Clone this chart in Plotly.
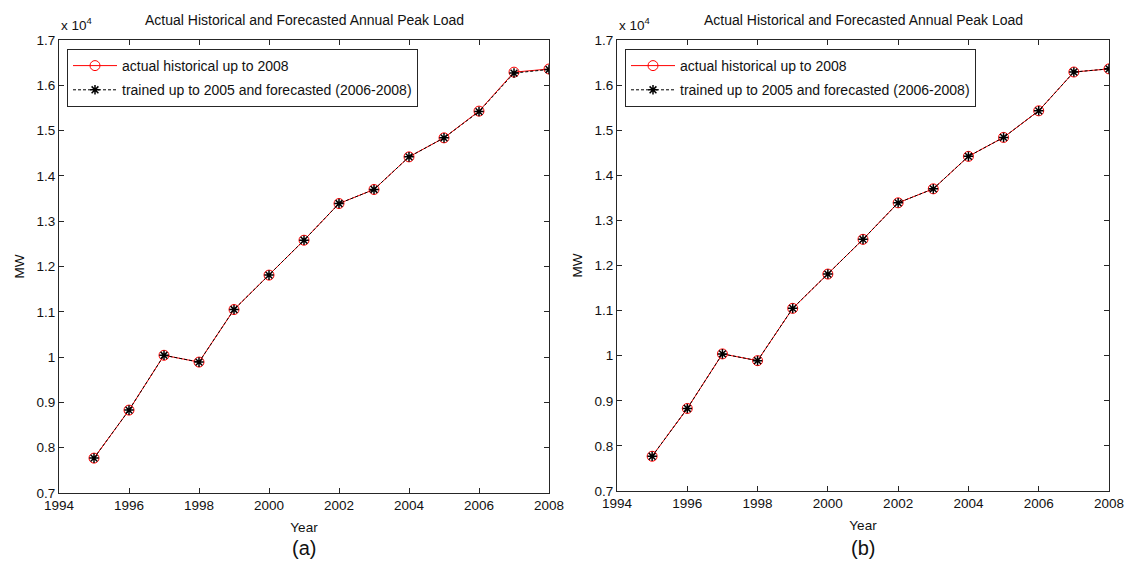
import plotly.graph_objects as go

years = [1995, 1996, 1997, 1998, 1999, 2000, 2001, 2002, 2003, 2004, 2005, 2006, 2007, 2008]
actual_mw = [7770, 8830, 10040, 9890, 11050, 11810, 12580, 13390, 13700, 14420, 14840, 15430, 16290, 16360]
forecast_a_mw = [7770, 8830, 10040, 9890, 11050, 11810, 12580, 13390, 13700, 14420, 14840, 15420, 16270, 16350]
forecast_b_mw = [7770, 8830, 10040, 9890, 11050, 11810, 12580, 13390, 13700, 14420, 14840, 15430, 16290, 16360]

ytick_vals = [7000, 8000, 9000, 10000, 11000, 12000, 13000, 14000, 15000, 16000, 17000]
ytick_text = ["0.7", "0.8", "0.9", "1", "1.1", "1.2", "1.3", "1.4", "1.5", "1.6", "1.7"]
xtick_vals = [1994, 1996, 1998, 2000, 2002, 2004, 2006, 2008]

title_text = "Actual Historical and Forecasted Annual Peak Load"
name_actual = "actual historical up to 2008"
name_forecast = "trained up to 2005 and forecasted (2006-2008)"

FONT = "Liberation Sans, Arial, sans-serif"
W, H = 1127, 563

fig = go.Figure()

panels = [
    dict(xa="x", ya="y", xaxis="xaxis", yaxis="yaxis", legend="legend",
         fc=forecast_a_mw, xd=[59 / W, 549 / W], yd=[1 - 493 / H, 1 - 40 / H], label="(a)"),
    dict(xa="x2", ya="y2", xaxis="xaxis2", yaxis="yaxis2", legend="legend2",
         fc=forecast_b_mw, xd=[617 / W, 1109 / W], yd=[1 - 491 / H, 1 - 40 / H], label="(b)"),
]

layout = dict(
    width=W, height=H,
    margin=dict(l=0, r=0, t=0, b=0, autoexpand=False),
    paper_bgcolor="white", plot_bgcolor="white",
    font=dict(family=FONT, size=13, color="#111111"),
    showlegend=True,
)

annotations = []
for i, p in enumerate(panels):
    fig.add_trace(go.Scatter(
        x=years, y=actual_mw, mode="lines+markers", name=name_actual,
        line=dict(color="red", width=1),
        marker=dict(symbol="circle-open", size=10, color="red", line=dict(width=1)),
        xaxis=p["xa"], yaxis=p["ya"], legend=p["legend"], legendgroup=f"a{i}"))
    fig.add_trace(go.Scatter(
        x=years, y=p["fc"], mode="lines+markers", name=name_forecast,
        line=dict(color="black", width=1, dash="3px,2px"),
        marker=dict(symbol="asterisk-open", size=8, color="black", line=dict(width=1.5, color="black")),
        xaxis=p["xa"], yaxis=p["ya"], legend=p["legend"], legendgroup=f"f{i}"))

    axcommon = dict(showline=True, linecolor="#262626", linewidth=1, mirror="ticks",
                    ticks="inside", ticklen=5, tickcolor="#262626", showgrid=False, zeroline=False,
                    automargin=False,
                    tickfont=dict(family=FONT, size=13.5, color="#111111"))
    layout[p["xaxis"]] = dict(axcommon, domain=p["xd"], range=[1994, 2008], tickvals=xtick_vals,
                              anchor=p["ya"],
                              title=dict(text="Year", font=dict(size=13.5), standoff=10))
    layout[p["yaxis"]] = dict(axcommon, domain=p["yd"], range=[7000, 17000], tickvals=ytick_vals,
                              ticktext=ytick_text, anchor=p["xa"])
    layout[p["legend"]] = dict(x=p["xd"][0] + 8 / W, y=p["yd"][1] - 9 / H, xanchor="left", yanchor="top",
                               bgcolor="white", bordercolor="#262626", borderwidth=1,
                               font=dict(family=FONT, size=14, color="#111111"),
                               tracegroupgap=3, itemwidth=44)
    cx = (p["xd"][0] + p["xd"][1]) / 2
    annotations.append(dict(text=title_text, x=cx, y=1 - 20 / H, xref="paper", yref="paper",
                            showarrow=False, font=dict(size=14, color="#111111"), xanchor="center", yanchor="middle"))
    annotations.append(dict(text="x 10<sup>4</sup>", x=p["xd"][0], y=1 - 24 / H, xref="paper", yref="paper",
                            showarrow=False, font=dict(size=13.5, color="#111111"), xanchor="left", yanchor="middle"))
    annotations.append(dict(text="MW", x=p["xd"][0] - 40 / W, y=(p["yd"][0] + p["yd"][1]) / 2,
                            xref="paper", yref="paper", textangle=-90,
                            showarrow=False, font=dict(size=13.5, color="#111111"), xanchor="center", yanchor="middle"))
    annotations.append(dict(text=p["label"], x=cx, y=1 - 548 / H, xref="paper", yref="paper",
                            showarrow=False, font=dict(size=20, color="#111111"), xanchor="center", yanchor="middle"))

layout["annotations"] = annotations
fig.update_layout(**layout)
fig.write_html("out.html", config={"displayModeBar": False},
               post_script="document.body.style.margin='0';")
